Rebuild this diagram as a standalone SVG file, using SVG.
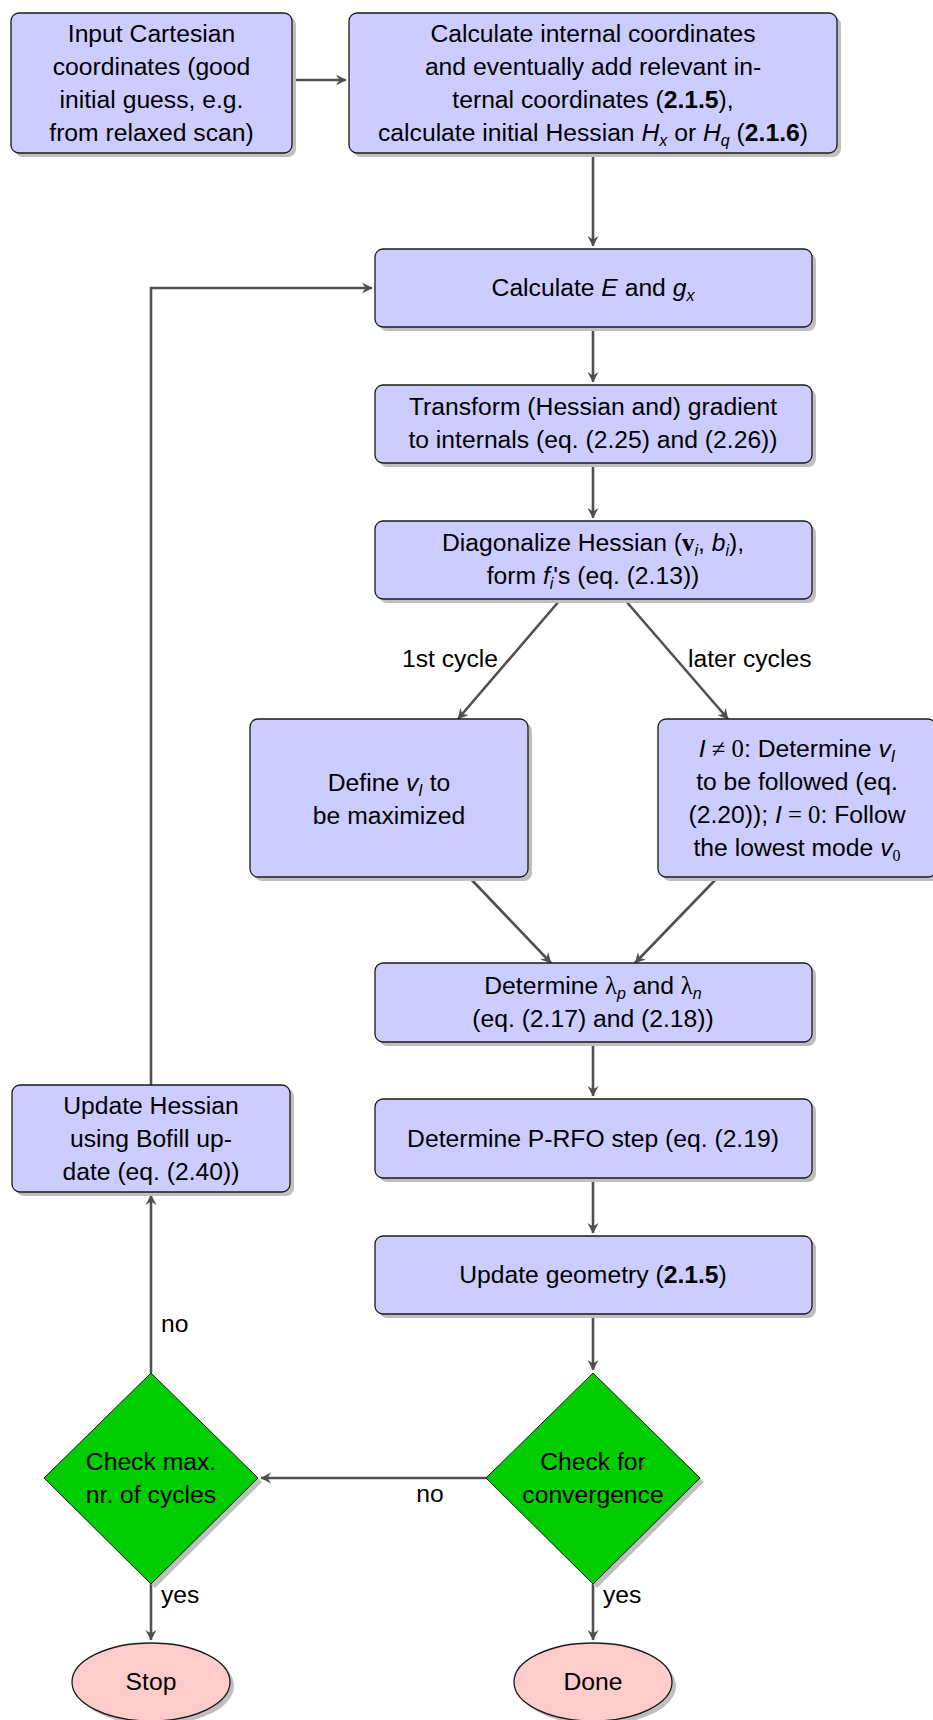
<svg xmlns="http://www.w3.org/2000/svg" width="933" height="1720" viewBox="0 0 933 1720">
  <defs>
    <marker id="arrow" viewBox="-12 -7 13 14" refX="0" refY="0" markerWidth="13" markerHeight="14" markerUnits="userSpaceOnUse" orient="auto">
      <path d="M 0.5 0 L -10 -5.5 L -6.5 0 L -10 5.5 Z" fill="#505050" stroke="none"/>
    </marker>
    <style>
      .box { fill: #ccccff; stroke: #1a1a1a; stroke-width: 1.3; }
      .shadow { fill: #bfbfbf; stroke: none; }
      .dec { fill: #00cc00; stroke: #1a1a1a; stroke-width: 1; }
      .term { fill: #ffcccc; stroke: #1a1a1a; stroke-width: 1.3; }
      .edge { fill: none; stroke: #505050; stroke-width: 2.6; marker-end: url(#arrow); }
      text { font-family: "Liberation Sans", Arial, sans-serif; font-size: 24.7px; fill: #000; }
      .c { text-anchor: middle; }
      .it { font-style: italic; }
      .b { font-weight: bold; }
      .rm { font-family: "Liberation Serif", "Times New Roman", serif; }
      .sub { font-size: 16px; }
    </style>
  </defs>

  <!-- connectors and their labels -->
  <g id="connectors">
    <path class="edge" d="M292,80 H346"/>
    <path class="edge" d="M593,153 V246"/>
    <path class="edge" d="M593,327 V382"/>
    <path class="edge" d="M593,463 V518"/>
    <path class="edge" d="M560,600 L458,719"/>
    <path class="edge" d="M625,600 L728,719"/>
    <path class="edge" d="M469,877 L551,963"/>
    <path class="edge" d="M718,877 L635,963"/>
    <path class="edge" d="M593,1042 V1096"/>
    <path class="edge" d="M593,1178 V1233"/>
    <path class="edge" d="M593,1314 V1370"/>
    <path class="edge" d="M489,1478 H261"/>
    <path class="edge" d="M151,1373 V1195"/>
    <path class="edge" d="M151,1085 V288 H372"/>
    <path class="edge" d="M151,1584 V1640"/>
    <path class="edge" d="M593,1584 V1640"/>
    <text x="498" y="667" text-anchor="end">1st cycle</text>
    <text x="688" y="667">later cycles</text>
    <text x="430" y="1502" class="c">no</text>
    <text x="161" y="1332">no</text>
    <text x="161" y="1603">yes</text>
    <text x="603" y="1603">yes</text>
  </g>

  <!-- input geometry -->
  <g id="input">
    <rect class="shadow" x="15" y="17" width="281" height="140" rx="8"/>
    <rect class="box" x="11" y="13" width="281" height="140" rx="8"/>
    <text class="c" x="151.5" y="42">Input Cartesian</text>
    <text class="c" x="151.5" y="75">coordinates (good</text>
    <text class="c" x="151.5" y="108">initial guess, e.g.</text>
    <text class="c" x="151.5" y="141">from relaxed scan)</text>
  </g>

  <g id="setup">
    <rect class="shadow" x="353" y="17" width="488" height="140" rx="8"/>
    <rect class="box" x="349" y="13" width="488" height="140" rx="8"/>
    <text class="c" x="593" y="42">Calculate internal coordinates</text>
    <text class="c" x="593" y="75">and eventually add relevant in-</text>
    <text class="c" x="593" y="108">ternal coordinates (<tspan class="b">2.1.5</tspan>),</text>
    <text class="c" x="593" y="141">calculate initial Hessian <tspan class="it">H</tspan><tspan class="it sub" dy="5">x</tspan><tspan dy="-5"> or </tspan><tspan class="it">H</tspan><tspan class="it sub" dy="5">q</tspan><tspan dy="-5"> (</tspan><tspan class="b">2.1.6</tspan>)</text>
  </g>

  <g id="energy">
    <rect class="shadow" x="379" y="253" width="437" height="78" rx="8"/>
    <rect class="box" x="375" y="249" width="437" height="78" rx="8"/>
    <text class="c" x="593" y="296">Calculate <tspan class="it">E</tspan> and <tspan class="it">g</tspan><tspan class="it sub" dy="5">x</tspan></text>
  </g>

  <g id="transform">
    <rect class="shadow" x="379" y="389" width="437" height="78" rx="8"/>
    <rect class="box" x="375" y="385" width="437" height="78" rx="8"/>
    <text class="c" x="593" y="415">Transform (Hessian and) gradient</text>
    <text class="c" x="593" y="448">to internals (eq.  (2.25) and (2.26))</text>
  </g>

  <g id="diagonalize">
    <rect class="shadow" x="379" y="525" width="437" height="78" rx="8"/>
    <rect class="box" x="375" y="521" width="437" height="78" rx="8"/>
    <text class="c" x="593" y="551">Diagonalize Hessian (<tspan class="rm b">v</tspan><tspan class="it sub" dy="5">i</tspan><tspan dy="-5">, </tspan><tspan class="it">b</tspan><tspan class="it sub" dy="5">i</tspan><tspan dy="-5">),</tspan></text>
    <text class="c" x="593" y="584">form <tspan class="it">f</tspan><tspan class="it sub" dy="5">i</tspan><tspan dy="-5">'s (eq.  (2.13))</tspan></text>
  </g>

  <g id="define-mode">
    <rect class="shadow" x="254" y="723" width="278" height="158" rx="8"/>
    <rect class="box" x="250" y="719" width="278" height="158" rx="8"/>
    <text class="c" x="389" y="791">Define <tspan class="it">v</tspan><tspan class="it sub" dy="5">I</tspan><tspan dy="-5"> to</tspan></text>
    <text class="c" x="389" y="824">be maximized</text>
  </g>

  <g id="follow-mode">
    <rect class="shadow" x="662" y="723" width="278" height="158" rx="8"/>
    <rect class="box" x="658" y="719" width="278" height="158" rx="8"/>
    <text class="c" x="797" y="757"><tspan class="it">I</tspan><tspan class="rm"> ≠ 0</tspan>:  Determine <tspan class="it">v</tspan><tspan class="it sub" dy="5">I</tspan></text>
    <text class="c" x="797" y="790">to be followed (eq.</text>
    <text class="c" x="797" y="823">(2.20)); <tspan class="it">I</tspan><tspan class="rm"> = 0</tspan>:  Follow</text>
    <text class="c" x="797" y="856">the lowest mode <tspan class="it">v</tspan><tspan class="rm sub" dy="5">0</tspan></text>
  </g>

  <g id="lambda">
    <rect class="shadow" x="379" y="967" width="437" height="79" rx="8"/>
    <rect class="box" x="375" y="963" width="437" height="79" rx="8"/>
    <text class="c" x="593" y="994">Determine <tspan class="rm">λ</tspan><tspan class="it sub" dy="5">p</tspan><tspan dy="-5"> and </tspan><tspan class="rm">λ</tspan><tspan class="it sub" dy="5">n</tspan></text>
    <text class="c" x="593" y="1027">(eq.  (2.17) and (2.18))</text>
  </g>

  <g id="prfo-step">
    <rect class="shadow" x="379" y="1103" width="437" height="79" rx="8"/>
    <rect class="box" x="375" y="1099" width="437" height="79" rx="8"/>
    <text class="c" x="593" y="1147">Determine P-RFO step (eq.  (2.19)</text>
  </g>

  <g id="update-geometry">
    <rect class="shadow" x="379" y="1240" width="437" height="78" rx="8"/>
    <rect class="box" x="375" y="1236" width="437" height="78" rx="8"/>
    <text class="c" x="593" y="1283">Update geometry (<tspan class="b">2.1.5</tspan>)</text>
  </g>

  <g id="update-hessian">
    <rect class="shadow" x="16" y="1089" width="278" height="107" rx="8"/>
    <rect class="box" x="12" y="1085" width="278" height="107" rx="8"/>
    <text class="c" x="151" y="1114">Update Hessian</text>
    <text class="c" x="151" y="1147">using Bofill up-</text>
    <text class="c" x="151" y="1180">date (eq.  (2.40))</text>
  </g>

  <g id="check-convergence">
    <polygon class="shadow" points="597,1377 704,1482 597,1588 490,1482"/>
    <polygon class="dec" points="593,1373 700,1478 593,1584 486,1478"/>
    <text class="c" x="593" y="1470">Check for</text>
    <text class="c" x="593" y="1503">convergence</text>
  </g>

  <g id="check-cycles">
    <polygon class="shadow" points="155,1377 262,1482 155,1588 48,1482"/>
    <polygon class="dec" points="151,1373 258,1478 151,1584 44,1478"/>
    <text class="c" x="151" y="1470">Check max.</text>
    <text class="c" x="151" y="1503">nr.  of cycles</text>
  </g>

  <g id="stop">
    <ellipse class="shadow" cx="155" cy="1686" rx="79" ry="39"/>
    <ellipse class="term" cx="151" cy="1682" rx="79" ry="39"/>
    <text class="c" x="151" y="1690">Stop</text>
  </g>

  <g id="done">
    <ellipse class="shadow" cx="597" cy="1686" rx="79" ry="39"/>
    <ellipse class="term" cx="593" cy="1682" rx="79" ry="39"/>
    <text class="c" x="593" y="1690">Done</text>
  </g>
</svg>
